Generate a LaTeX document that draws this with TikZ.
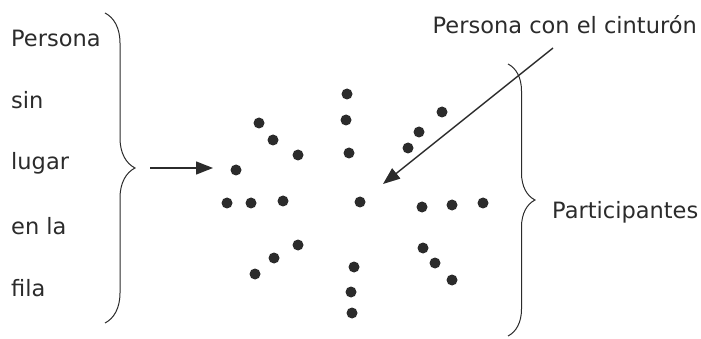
\documentclass[tikz,border=0pt]{standalone}
\usepackage{fontspec}
\setmainfont{DejaVu Sans}
\usetikzlibrary{arrows.meta,decorations.pathreplacing}
\definecolor{ink}{HTML}{2B2B2B}
\begin{document}
\begin{tikzpicture}[x=1pt,y=-1pt,
  dot/.style={circle,fill=ink,inner sep=0pt,minimum size=11pt},
  lbl/.style={inner sep=0pt,font=\fontsize{22.5}{26}\selectfont,text=ink},
  brc/.style={draw=ink,line width=1pt,decorate,decoration={brace,amplitude=#1}},
  arr/.style={draw=ink,line width=1.4pt,-{Triangle[length=17pt,width=13pt]}}]
\useasboundingbox (0,0) rectangle (701,339);
% left texts
\node[lbl,anchor=west] (t1) at (11,38) {Persona};
\node[lbl,anchor=west] (t2) at (11,100) {sin};
\node[lbl,anchor=west] (t3) at (11,163) {lugar};
\node[lbl,anchor=west] (t4) at (11,226) {en la};
\node[lbl,anchor=west] (t5) at (11,288) {fila};
\node[lbl,anchor=east] (tc) at (697,25) {Persona con el cinturón};
\node[lbl,anchor=west] (tp) at (552,212) {Participantes};
% dots
\foreach \n/\x/\y in {a1/347/94,a2/346/120,a3/349/153,
  b1/259/123,b2/273/140,b3/298/155,
  c0/236/170,c1/227/203,c2/251/203,c3/283/201,
  m/360/202,
  d1/442/112,d2/419/132,d3/408/148,
  e1/422/207,e2/452/205,e3/483/203,
  f1/298/245,f2/274/258,f3/255/274,
  g1/354/267,g2/351/292,g3/352/313,
  h1/423/248,h2/435/263,h3/452/280}
  \node[dot] (\n) at (\x,\y) {};
% braces
\coordinate (lbt) at (105,13);
\coordinate (lbb) at (105,323);
\draw[brc=30pt] (lbt) -- (lbb);
\coordinate (rbt) at (508,64);
\coordinate (rbb) at (508,336);
\draw[brc=27pt] (rbt) -- (rbb);
% arrows
\coordinate (la) at (150,168);
\coordinate (lt) at (213,168);
\draw[arr] (la) -- (lt);
\coordinate (da) at (553,48);
\coordinate (dt) at (383,184);
\draw[arr] (da) -- (dt);
\end{tikzpicture}
\end{document}
